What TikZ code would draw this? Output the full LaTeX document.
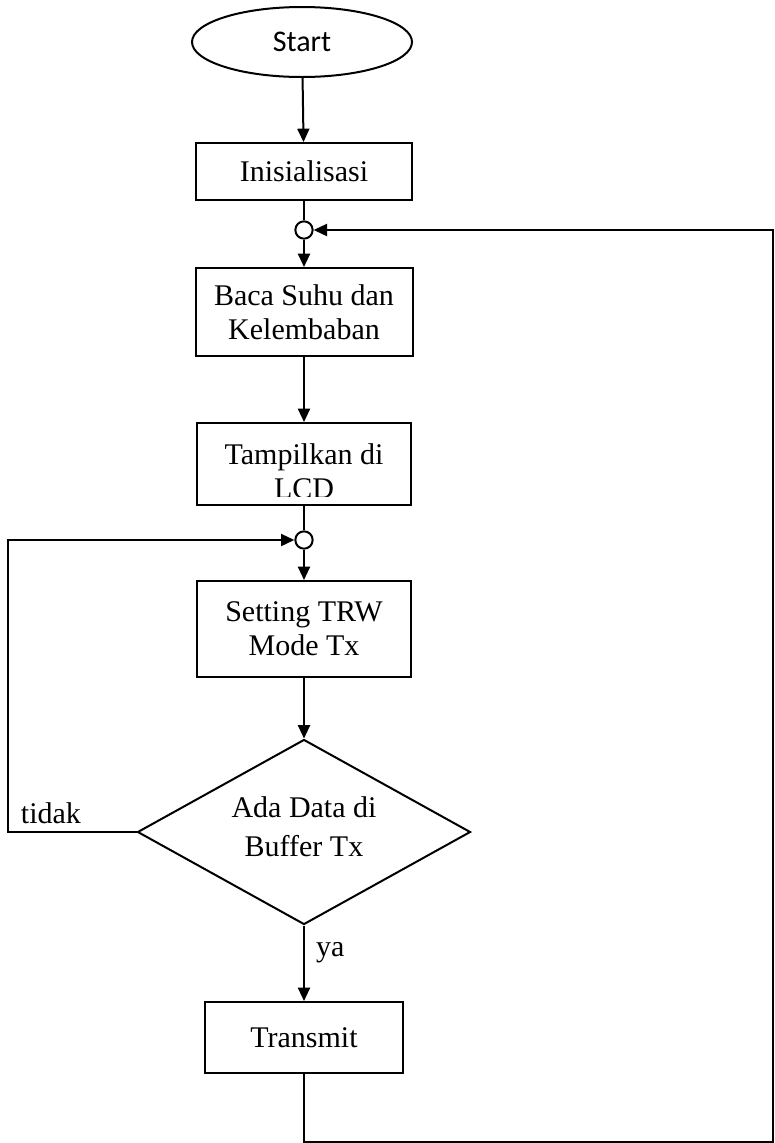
\documentclass[tikz,border=0pt]{standalone}
\usepackage{fontspec}
\setmainfont{Liberation Serif}
\newfontfamily\startfont{Carlito}
\usetikzlibrary{shapes.geometric,arrows.meta}
\begin{document}
\begin{tikzpicture}[x=0.75pt,y=-0.75pt,
  line width=1.5pt,
  txt/.style={font=\fontsize{22.5}{25.5}\selectfont},
  box/.style={draw, rectangle, inner sep=0pt, align=center, txt},
  arr/.style={-{Triangle[length=10pt,width=9pt]}},
  conn/.style={draw, circle, minimum size=13pt, inner sep=0pt},
  lbl/.style={txt, inner sep=0pt}]
\useasboundingbox (0,0) rectangle (775,1143);

\node[draw, ellipse, minimum width=165pt, minimum height=52.5pt, inner sep=0pt,
      font=\startfont\fontsize{22.5}{25}\selectfont] (start) at (302,42) {Start};
\node[box, minimum width=162pt, minimum height=42.75pt] (init) at (304,171.5) {Inisialisasi};
\node[conn] (c1) at (304,230) {};
\node[box, minimum width=162.75pt, minimum height=66pt] (baca) at (304,312) {Baca Suhu dan\\Kelembaban};
\node[box, minimum width=160pt, minimum height=61.5pt] (tampil) at (304,464) {};
\begin{scope}
  \clip (200,423) rectangle (413,496);
  \node[lbl, align=center] (tampiltxt) at (304,471) {Tampilkan di\\LCD};
\end{scope}
\node[conn] (c2) at (304,540) {};
\node[box, minimum width=161pt, minimum height=72pt] (set) at (304,629) {Setting TRW\\Mode Tx};
\node[draw, diamond, aspect=1.8, minimum width=249.75pt, minimum height=138.75pt,
      inner sep=0pt, align=center, txt] (dec) at (304,832) {};
\node[lbl, align=center, font=\fontsize{22.5}{29}\selectfont] (dectxt) at (304,827) {Ada Data di\\Buffer Tx};
\node[box, minimum width=148.5pt, minimum height=53.25pt] (tx) at (304,1037.5) {Transmit};

\coordinate (L) at (8,832);
\coordinate (B) at (304,1142);
\coordinate (R) at (773,1142);

\draw[arr] (start) -- (init);
\draw (init) -- (c1);
\draw[arr] (c1) -- (baca);
\draw[arr] (baca) -- (tampil);
\draw (tampil) -- (c2);
\draw[arr] (c2) -- (set);
\draw[arr] (set) -- (dec);
\draw[arr] (dec) -- (tx);
\draw[arr] (dec.west) -- (L) |- (c2);
\draw[arr] (tx) -- (B) -- (R) |- (c1);

\node[lbl, anchor=west] (tidak) at (20,813) {tidak};
\node[lbl, anchor=west] (ya) at (315,953) {ya};
\end{tikzpicture}
\end{document}
